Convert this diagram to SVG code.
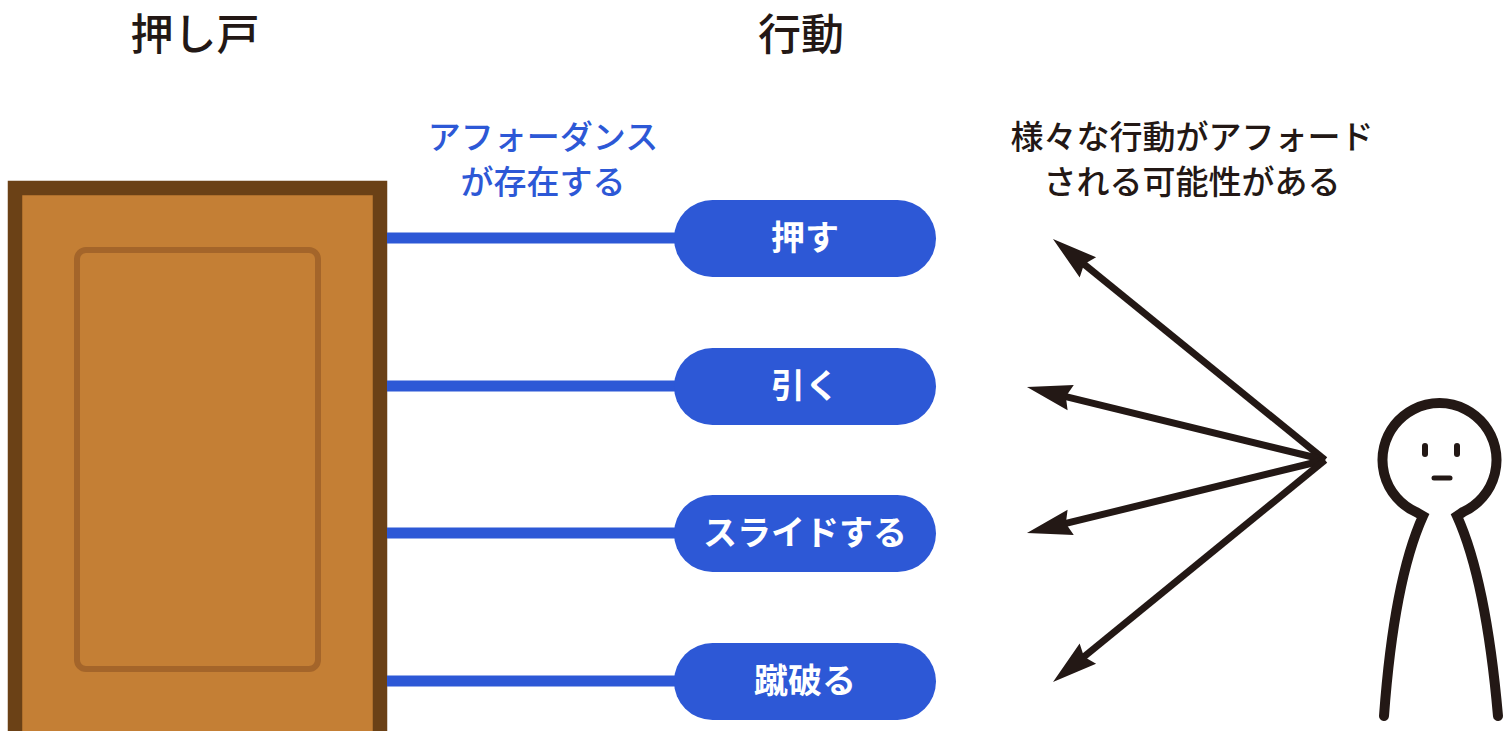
<svg xmlns="http://www.w3.org/2000/svg" width="1504" height="731" viewBox="0 0 1504 731">
  <style>
    .title { font-family: "Noto Sans CJK JP", "Noto Sans", sans-serif; font-size: 43px; font-weight: 500; fill: #231815; text-anchor: middle; }
    .note { font-family: "Noto Sans CJK JP", "Noto Sans", sans-serif; font-size: 33px; font-weight: 500; fill: #231815; text-anchor: middle; }
    .blue-note { font-family: "Noto Sans CJK JP", "Noto Sans", sans-serif; font-size: 33px; font-weight: 500; fill: #2d58d6; text-anchor: middle; }
    .pill { fill: #2d58d6; }
    .pill-text { font-family: "Noto Sans CJK JP", "Noto Sans", sans-serif; font-size: 34px; font-weight: 700; fill: #ffffff; text-anchor: middle; }
    .link { stroke: #2d58d6; stroke-width: 11; fill: none; }
    .arrow { stroke: #231815; stroke-width: 7; fill: none; marker-end: url(#head); }
    .ink { stroke: #231815; fill: none; stroke-width: 10; }
  </style>
  <defs>
    <!-- arrowhead: tip sits 20px past the end of the shaft -->
    <marker id="head" markerWidth="48" markerHeight="30" refX="25" refY="15" orient="auto" markerUnits="userSpaceOnUse">
      <path d="M0,2 L45,15 L0,28 L5,15 Z" fill="#231815"/>
    </marker>
  </defs>

  <rect width="1504" height="731" fill="#ffffff"/>

  <!-- headings -->
  <text class="title" x="195" y="50">押し戸</text>
  <text class="title" x="801" y="50">行動</text>

  <!-- door -->
  <g id="door">
    <rect x="15" y="188" width="365" height="570" fill="#c47f35" stroke="#6b4116" stroke-width="14.5"/>
    <rect x="77" y="250" width="241" height="419" rx="9" fill="none" stroke="#a4652a" stroke-width="6"/>
  </g>

  <g id="affordance-label">
    <text class="blue-note" x="543" y="149">アフォーダンス</text>
    <text class="blue-note" x="543" y="194">が存在する</text>
  </g>

  <!-- connectors -->
  <g id="connectors">
    <line class="link" x1="387" y1="238" x2="690" y2="238"/>
    <line class="link" x1="387" y1="386" x2="690" y2="386"/>
    <line class="link" x1="387" y1="533" x2="690" y2="533"/>
    <line class="link" x1="387" y1="681" x2="690" y2="681"/>
    <line class="arrow" x1="1325" y1="460" x2="1068.5" y2="251.6"/>
    <line class="arrow" x1="1325" y1="460" x2="1046.4" y2="391.8"/>
    <line class="arrow" x1="1325" y1="460" x2="1046.4" y2="528.2"/>
    <line class="arrow" x1="1325" y1="460" x2="1068.5" y2="669.4"/>
  </g>

  <!-- actions -->
  <g id="push">
    <rect class="pill" x="674" y="200" width="262" height="77" rx="38.5"/>
    <text class="pill-text" x="805" y="250">押す</text>
  </g>
  <g id="pull">
    <rect class="pill" x="674" y="348" width="262" height="77" rx="38.5"/>
    <text class="pill-text" x="805" y="398">引く</text>
  </g>
  <g id="slide">
    <rect class="pill" x="674" y="495" width="262" height="77" rx="38.5"/>
    <text class="pill-text" x="805" y="545">スライドする</text>
  </g>
  <g id="kick">
    <rect class="pill" x="674" y="643" width="262" height="77" rx="38.5"/>
    <text class="pill-text" x="805" y="693">蹴破る</text>
  </g>

  <g id="afforded-label">
    <text class="note" x="1192" y="149">様々な行動がアフォード</text>
    <text class="note" x="1192" y="194">される可能性がある</text>
  </g>

  <!-- person -->
  <g id="person">
    <path class="ink" stroke-linecap="round" stroke-linejoin="miter" d="M1384,716 Q1394,580 1423,516 L1416,512 A57,57 0 1 1 1463,512 L1457,516 Q1486,580 1498,716"/>
    <rect x="1422" y="443" width="6" height="14" rx="3" fill="#231815"/>
    <rect x="1454" y="443" width="6" height="14" rx="3" fill="#231815"/>
    <line x1="1434" y1="478" x2="1450" y2="478" stroke="#231815" stroke-width="5" stroke-linecap="round"/>
  </g>
</svg>
